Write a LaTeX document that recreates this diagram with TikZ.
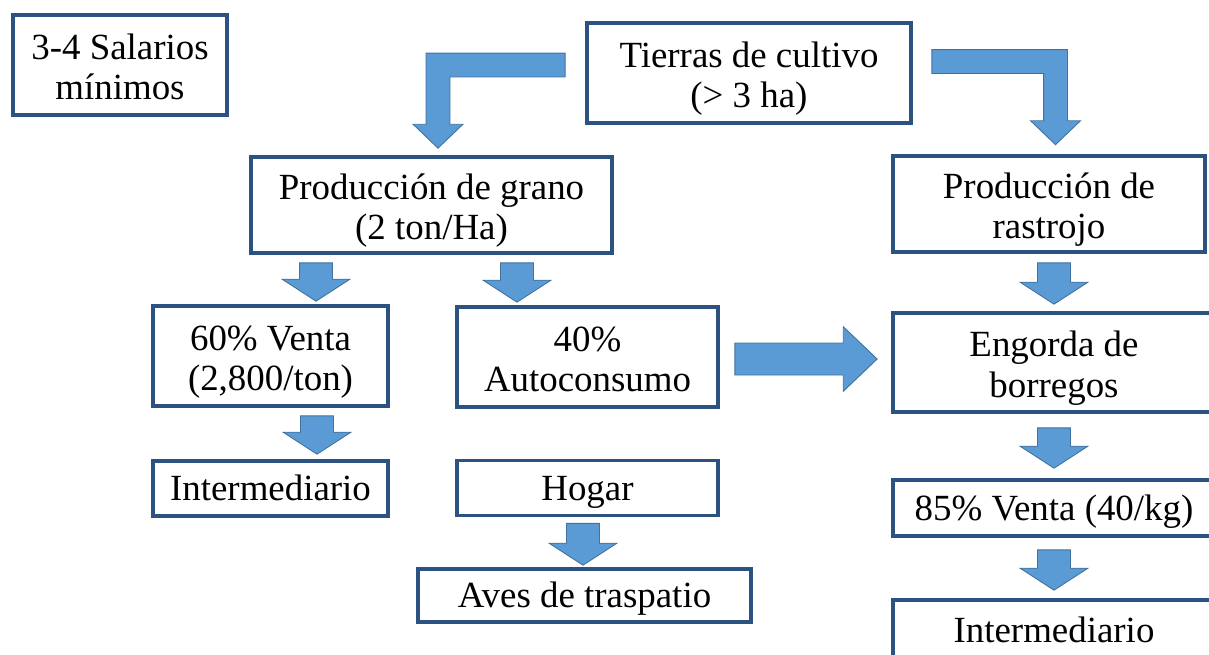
\documentclass[tikz,border=0pt]{standalone}
\usepackage{fontspec}
\setmainfont{Liberation Serif}
\usetikzlibrary{calc}

\definecolor{borde}{RGB}{44,82,130}
\definecolor{relleno}{RGB}{91,155,213}
\definecolor{contorno}{RGB}{65,113,156}

\tikzset{
  caja/.style={draw=borde, line width=2.1pt, fill=white, align=center, inner sep=0pt,
    font=\fontsize{21}{23.2}\selectfont, text height=19.2pt, text depth=5pt},
  dos/.style={text height=44.6pt},
  tam/.style 2 args={minimum width=#1*0.02cm, minimum height=#2*0.02cm},
  flecha/.style={fill=relleno, draw=contorno, line width=0.5pt, line join=miter},
}

% block arrow pointing down: #1 top of the shaft, #2 tip
\newcommand{\flechaV}[2]{%
  \filldraw[flecha] let \p1=#1, \p2=#2 in
    (\x1-9.4pt,\y1) -- (\x1+9.4pt,\y1) -- (\x1+9.4pt,\y2+12.5pt) -- (\x1+19.3pt,\y2+12.5pt)
    -- (\x1,\y2) -- (\x1-19.3pt,\y2+12.5pt) -- (\x1-9.4pt,\y2+12.5pt) -- cycle;}
% block arrow pointing right
\newcommand{\flechaH}[2]{%
  \filldraw[flecha] let \p1=#1, \p2=#2 in
    (\x1,\y1+9.1pt) -- (\x2-19.3pt,\y1+9.1pt) -- (\x2-19.3pt,\y1+18.4pt) -- (\x2,\y1)
    -- (\x2-19.3pt,\y1-18.4pt) -- (\x2-19.3pt,\y1-9.1pt) -- (\x1,\y1-9.1pt) -- cycle;}

\begin{document}
\begin{tikzpicture}[x=0.02cm, y=-0.02cm]
\useasboundingbox (0,0) rectangle (1209,654);
	\node[caja, dos, tam={214}{100}] (salarios) at (120,65) {3-4 Salarios\\mínimos};
	\node[caja, dos, tam={324}{100}] (tierras) at (749,73) {Tierras de cultivo\\(> 3 ha)};
	\node[caja, dos, tam={361}{96}] (grano) at (431.5,205) {Producción de grano\\(2 ton/Ha)};
	\node[caja, dos, tam={312}{96}] (rastrojo) at (1049,204) {Producción de\\rastrojo};
	\node[caja, dos, tam={235}{100}] (venta) at (270.5,356) {60\% Venta\\(2,800/ton)};
	\node[caja, dos, tam={261}{100}] (autoconsumo) at (587.5,357) {40\%\\Autoconsumo};
	\node[caja, dos, tam={322}{99}] (engorda) at (1054,362.5) {Engorda de\\borregos};
	\node[caja, tam={235}{55}] (intermA) at (270.5,488.5) {Intermediario};
	\node[caja, tam={261}{55}] (hogar) at (587.5,488) {Hogar};
	\node[caja, tam={333}{53}] (aves) at (584.5,595.5) {Aves de traspatio};
	\node[caja, tam={322}{56}] (ventaB) at (1054,508) {85\% Venta (40/kg)};
	\node[caja, tam={322}{60}] (intermB) at (1054,630) {Intermediario};
	% elbow arrows out of the land box
	\filldraw[flecha] let \p1=($(tierras.west)+(-20,-8)$), \p2=($(grano.north -| 438,0)+(0,-7)$) in
		(\x1,\y1+6.8pt) -- (\x2-6.8pt,\y1+6.8pt) -- (\x2-6.8pt,\y2+13.6pt) -- (\x2-14.2pt,\y2+13.6pt)
		-- (\x2,\y2) -- (\x2+14.2pt,\y2+13.6pt) -- (\x2+6.8pt,\y2+13.6pt) -- (\x2+6.8pt,\y1-6.8pt)
		-- (\x1,\y1-6.8pt) -- cycle;
	\filldraw[flecha] let \p1=($(tierras.east)+(19,-11.5)$), \p2=($(rastrojo.north -| 1055.5,0)+(0,-9.5)$) in
		(\x1,\y1+6.8pt) -- (\x2+6.8pt,\y1+6.8pt) -- (\x2+6.8pt,\y2+13.6pt) -- (\x2+14.2pt,\y2+13.6pt)
		-- (\x2,\y2) -- (\x2-14.2pt,\y2+13.6pt) -- (\x2-6.8pt,\y2+13.6pt) -- (\x2-6.8pt,\y1-6.8pt)
		-- (\x1,\y1-6.8pt) -- cycle;
	% down arrows
	\flechaV{($(grano.south -| 316,0)+(0,8)$)}{($(venta.north -| 316,0)+(0,-3)$)}
	\flechaV{($(grano.south -| 517,0)+(0,8)$)}{($(autoconsumo.north -| 517,0)+(0,-3)$)}
	\flechaV{($(rastrojo.south -| 1054,0)+(0,9)$)}{($(engorda.north -| 1054,0)+(0,-7)$)}
	\flechaV{($(venta.south -| 317,0)+(0,8)$)}{($(intermA.north -| 317,0)+(0,-5)$)}
	\flechaV{($(hogar.south -| 583,0)+(0,6)$)}{($(aves.north -| 583,0)+(0,-2)$)}
	\flechaV{($(engorda.south -| 1054,0)+(0,14)$)}{($(ventaB.north -| 1054,0)+(0,-10)$)}
	\flechaV{($(ventaB.south -| 1054,0)+(0,12)$)}{($(intermB.north -| 1054,0)+(0,-8)$)}
	% side arrow to the sheep
	\flechaH{($(autoconsumo.east)+(15,2)$)}{($(engorda.west |- autoconsumo.east)+(-14,2)$)}
\end{tikzpicture}
\end{document}
